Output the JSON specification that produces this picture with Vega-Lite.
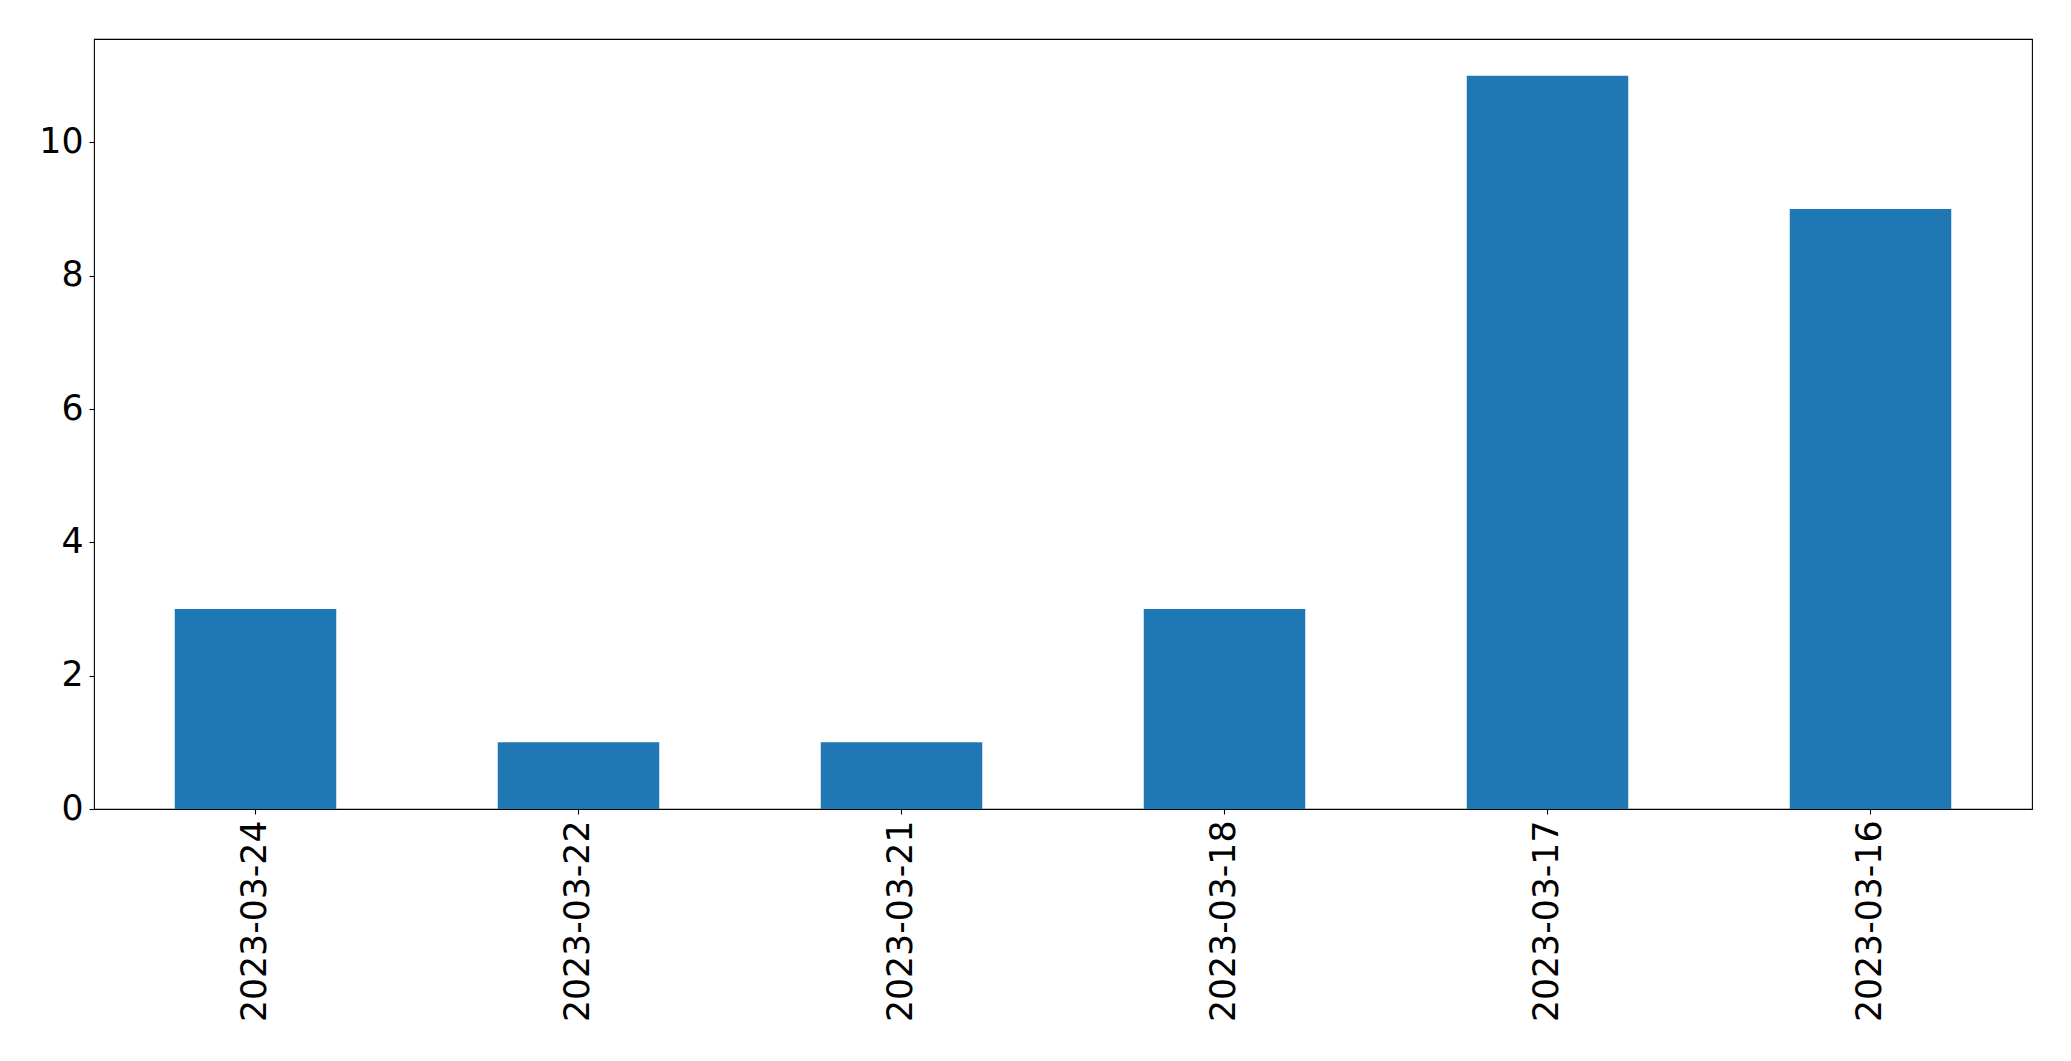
{
  "$schema": "https://vega.github.io/schema/vega-lite/v6.json",
  "autosize": {"type": "none"},
  "padding": {"left": 94, "top": 39, "right": 39, "bottom": 252},
  "width": 1938,
  "height": 770,
  "background": "white",
  "config": {
    "view": {"stroke": "black", "strokeWidth": 1.1},
    "axis": {
      "labelFont": "DejaVu Sans",
      "labelFontSize": 34.7,
      "labelColor": "black",
      "labelLimit": 0,
      "tickColor": "black",
      "tickSize": 5,
      "tickWidth": 1.1,
      "domain": false,
      "grid": false,
      "title": null
    }
  },
  "data": {
    "values": [
      {"date": "2023-03-24", "count": 3},
      {"date": "2023-03-22", "count": 1},
      {"date": "2023-03-21", "count": 1},
      {"date": "2023-03-18", "count": 3},
      {"date": "2023-03-17", "count": 11},
      {"date": "2023-03-16", "count": 9}
    ]
  },
  "mark": {"type": "bar", "color": "#1f77b4"},
  "encoding": {
    "x": {
      "field": "date",
      "type": "nominal",
      "sort": null,
      "scale": {"paddingInner": 0.5, "paddingOuter": 0.25},
      "axis": {"labelAngle": -90, "labelPadding": 6, "labelAlign": "right", "labelBaseline": "middle"}
    },
    "y": {
      "field": "count",
      "type": "quantitative",
      "scale": {"domain": [0, 11.55], "nice": false, "zero": true},
      "axis": {"values": [0, 2, 4, 6, 8, 10], "labelPadding": 6}
    }
  }
}
